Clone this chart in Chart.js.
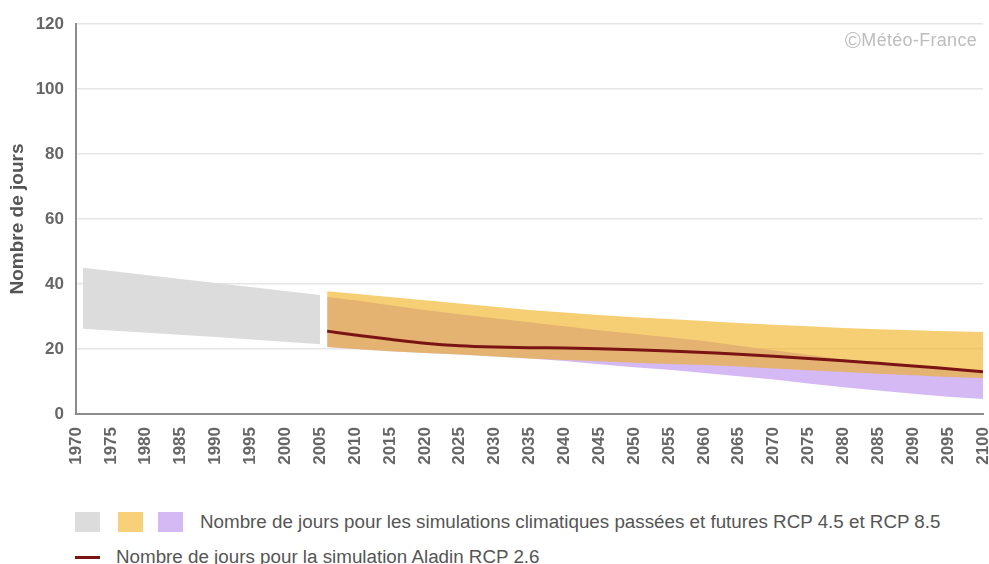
<!DOCTYPE html>
<html>
<head>
<meta charset="utf-8">
<script src="https://cdn.jsdelivr.net/npm/chart.js@4.4.1/dist/chart.umd.min.js"></script>
<style>
    body { margin: 0; background: #fff; }
    #wrap { position: relative; width: 989px; height: 564px; overflow: hidden; font-family: "Liberation Sans", Arial, sans-serif; }
    #chartBox { position: absolute; left: 0; top: 0; width: 989px; height: 470px; }
    .copy { position: absolute; right: 12px; top: 28px; font-size: 18px; color: #bdbdbd; letter-spacing: 0.3px; }
    .copy span { font-size: 22px; vertical-align: -2px; }
    .box { position: absolute; top: 512px; width: 25px; height: 20px; }
    .leg { position: absolute; font-size: 18.8px; color: #555; white-space: nowrap; line-height: 20px; }
    .swatch { position: absolute; left: 75px; top: 556px; width: 25px; height: 3px; background: #7a1414; }
</style>
</head>
<body>
<div id="wrap">
    <div id="chartBox"><canvas id="chart"></canvas></div>
    <div class="copy"><span>©</span>Météo-France</div>
    <div class="box" style="left:75px;background:#dcdcdc"></div>
    <div class="box" style="left:118px;background:#f7d07a"></div>
    <div class="box" style="left:158px;background:#d4b9f5"></div>
    <div class="leg" style="left:200px;top:512px">Nombre de jours pour les simulations climatiques passées et futures RCP 4.5 et RCP 8.5</div>
    <div class="swatch"></div>
    <div class="leg" style="left:116px;top:547px">Nombre de jours pour la simulation Aladin RCP 2.6</div>
</div>
<script>
// historical simulations (grey band)
const histYears = [1971, 1990, 2005];
const histMax = [45, 40.3, 36.6];
const histMin = [26.2, 23.7, 21.5];

// future simulations
const futYears = [2006, 2010, 2015, 2020, 2025, 2030, 2035, 2040, 2045, 2050,
                  2055, 2060, 2065, 2070, 2075, 2080, 2085, 2090, 2095, 2100];
const rcp45Max = [37.8, 37, 36, 35, 34, 33, 32, 31.2, 30.5, 29.8,
                  29.2, 28.6, 28, 27.5, 27, 26.5, 26.1, 25.8, 25.5, 25.2];
const rcp45Min = [20.6, 20, 19.3, 18.8, 18.3, 17.7, 17.1, 16.6, 16.2, 15.8,
                  15.4, 15.1, 14.6, 14, 13.5, 12.9, 12.4, 11.9, 11.4, 11];
const rcp85Max = [36, 35, 33.5, 32, 30.7, 29.5, 28.2, 27, 25.8, 24.7,
                  23.6, 22.5, 21, 19.6, 18.2, 16.8, 15.8, 14.7, 13.7, 12.8];
const rcp85Min = [20.6, 20, 19.3, 18.8, 18.3, 17.7, 17.1, 16.3, 15.3, 14.4,
                  13.6, 12.6, 11.6, 10.6, 9.4, 8.2, 7.2, 6.2, 5.3, 4.6];
const aladin26 = [25.5, 24.3, 23, 21.8, 21, 20.6, 20.4, 20.3, 20.1, 19.8,
                  19.4, 18.9, 18.4, 17.8, 17.1, 16.4, 15.6, 14.8, 13.9, 13];

const yTicks = [0, 20, 40, 60, 80, 100, 120];

function pts(xs, ys) {
    return xs.map((x, i) => ({ x: x, y: ys[i] }));
}

function band(xs, ys, fill, order, target) {
    return {
        data: pts(xs, ys),
        borderColor: 'transparent',
        borderWidth: 0,
        pointRadius: 0,
        backgroundColor: fill,
        fill: target === undefined ? false : target,
        order: order,
        tension: 0
    };
}

Chart.defaults.font.family = '"Liberation Sans", Arial, sans-serif';

new Chart(document.getElementById('chart'), {
    type: 'line',
    data: {
        datasets: [
            band(histYears, histMax, '#dcdcdc', 3, 1),
            band(histYears, histMin, '#dcdcdc', 3),
            band(futYears, rcp85Max, '#d4b9f5', 2, 3),
            band(futYears, rcp85Min, '#d4b9f5', 2),
            band(futYears, rcp45Max, 'rgba(240,175,25,0.6)', 1, 5),
            band(futYears, rcp45Min, 'rgba(240,175,25,0.6)', 1),
            {
                data: pts(futYears, aladin26),
                borderColor: '#7a1414',
                borderWidth: 3,
                pointRadius: 0,
                fill: false,
                cubicInterpolationMode: 'monotone',
                order: 0
            }
        ]
    },
    options: {
        responsive: true,
        maintainAspectRatio: false,
        animation: false,
        layout: { padding: { top: 24, right: 6, left: 0, bottom: 0 } },
        plugins: { legend: { display: false }, tooltip: { enabled: false } },
        scales: {
            x: {
                type: 'linear',
                min: 1970,
                max: 2100,
                grid: { display: false },
                border: { display: true, color: '#8c8c8c', width: 2 },
                ticks: {
                    stepSize: 5,
                    autoSkip: false,
                    maxRotation: 90,
                    minRotation: 90,
                    padding: 5,
                    color: '#666',
                    font: { size: 17, weight: 'bold' },
                    callback: v => String(v)
                },
                afterFit: s => {
                    s.height = 56;
                    s.paddingLeft = 0;
                    s.paddingRight = 0;
                }
            },
            y: {
                min: 0,
                max: 120,
                afterBuildTicks: s => { s.ticks = yTicks.map(v => ({ value: v })); },
                grid: { color: '#e6e6e6', lineWidth: 1.5, drawTicks: false },
                border: { display: true, color: '#8c8c8c', width: 2 },
                ticks: {
                    padding: 12,
                    color: '#666',
                    font: { size: 17, weight: 'bold' }
                },
                title: {
                    display: true,
                    text: 'Nombre de jours',
                    color: '#555',
                    font: { size: 19, weight: 'bold' },
                    padding: { top: 6, bottom: 0 }
                },
                afterFit: s => { s.width = 76; }
            }
        }
    }
});
</script>
</body>
</html>
